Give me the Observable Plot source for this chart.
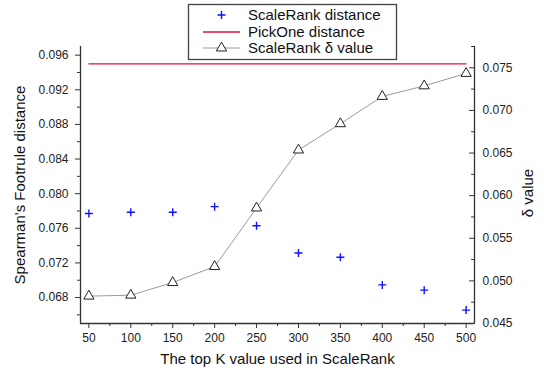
<!DOCTYPE html>
<html>
<head>
<meta charset="utf-8">
<script src="https://cdn.jsdelivr.net/npm/d3@7"></script>
<script src="https://cdn.jsdelivr.net/npm/@observablehq/plot@0.6"></script>
<style>
  html, body { margin: 0; padding: 0; background: #fff; }
  #wrap { position: relative; width: 544px; height: 373px; font-family: "Liberation Sans", Arial, sans-serif; }
  #legend { position: absolute; left: 0; top: 0; }
</style>
</head>
<body>
<div id="wrap"><div id="chart"></div></div>
<script>
// ---- data ----
const K = [50, 100, 150, 200, 250, 300, 350, 400, 450, 500];
const scaleRankDistance = [0.0777, 0.07785, 0.07785, 0.0785, 0.0763, 0.07315, 0.07265, 0.06946, 0.06885, 0.06655];
const pickOneDistance = 0.095;
const scaleRankDelta = [0.04821, 0.04832, 0.0498, 0.05168, 0.05855, 0.06535, 0.06844, 0.07164, 0.07288, 0.07434];
const xMajorTicks = [50, 100, 150, 200, 250, 300, 350, 400, 450, 500];
const xMinorTicks = [75, 125, 175, 225, 275, 325, 375, 425, 475];
const leftMajorTicks = [0.068, 0.072, 0.076, 0.080, 0.084, 0.088, 0.092, 0.096];
const leftMinorTicks = [0.066, 0.070, 0.074, 0.078, 0.082, 0.086, 0.090, 0.094];
const rightMajorTicks = [0.045, 0.050, 0.055, 0.060, 0.065, 0.070, 0.075];
const rightMinorTicks = [0.0475, 0.0525, 0.0575, 0.0625, 0.0675, 0.0725, 0.0775];
const legendLabels = ["ScaleRank distance", "PickOne distance", "ScaleRank \u03b4 value"];
const xTitle = "The top K value used in ScaleRank";
const yLeftTitle = "Spearman's Footrule distance";
const yRightTitle = "\u03b4 value";

// ---- scales ----
const xDomain = [40, 510];
const leftDomain = [0.065, 0.097];
const rightDomain = [0.045, 0.0775];
const toLeft = v => leftDomain[0] + (v - rightDomain[0]) * (leftDomain[1] - leftDomain[0]) / (rightDomain[1] - rightDomain[0]);
const fromLeft = v => rightDomain[0] + (v - leftDomain[0]) * (rightDomain[1] - rightDomain[0]) / (leftDomain[1] - leftDomain[0]);

const crossData = K.map((k, i) => ({k, v: scaleRankDistance[i]}));
const deltaData = K.map((k, i) => ({k, v: toLeft(scaleRankDelta[i])}));
const pickData = [{k: K[0], v: pickOneDistance}, {k: K[K.length - 1], v: pickOneDistance}];

const plusSymbol = {
  draw(ctx, size) {
    const r = Math.sqrt(size / Math.PI);
    ctx.moveTo(-r, 0); ctx.lineTo(r, 0);
    ctx.moveTo(0, -r); ctx.lineTo(0, r);
  }
};
const tickShape = { draw(ctx, l) { ctx.moveTo(0, 0); ctx.lineTo(0, -l); } };
const axisColor = "#333";
const fmt3 = d3.format(".3f");

const chart = Plot.plot({
  width: 544,
  height: 373,
  marginLeft: 80,
  marginRight: 70,
  marginTop: 46,
  marginBottom: 50,
  style: { fontFamily: "Liberation Sans, Arial, sans-serif", background: "#fff", color: "#222" },
  x: { domain: xDomain, label: null },
  y: { domain: leftDomain, label: null },
  marks: [
    // frame lines (left, right, bottom)
    Plot.ruleX([xDomain[0], xDomain[1]], { stroke: axisColor, strokeWidth: 1.3 }),
    Plot.ruleY([leftDomain[0]], { stroke: axisColor, strokeWidth: 1.3 }),
    // bottom axis
    Plot.axisX({ ticks: xMajorTicks, tickSize: 5, tickPadding: 5, fontSize: 12, tickFormat: d3.format("d"), label: null, stroke: axisColor }),
    Plot.axisX({ ticks: xMinorTicks, tickSize: 3, fill: "none", label: null, stroke: axisColor }),
    // left axis
    Plot.axisY({ ticks: leftMajorTicks, tickSize: 5, tickPadding: 7, fontSize: 12, tickFormat: fmt3, label: null, stroke: axisColor }),
    Plot.axisY({ ticks: leftMinorTicks, tickSize: 3, fill: "none", label: null, stroke: axisColor }),
    // right axis (labels) + inward ticks
    Plot.axisY({ anchor: "right", ticks: rightMajorTicks.map(toLeft), tickSize: 0, tickPadding: 8, fontSize: 12,
      tickFormat: d => fmt3(fromLeft(d)), label: null }),
    Plot.vector(rightMajorTicks, { x: () => xDomain[1], y: d => toLeft(d), length: 5, rotate: -90, anchor: "start", shape: tickShape, stroke: axisColor, strokeWidth: 1 }),
    Plot.vector(rightMinorTicks, { x: () => xDomain[1], y: d => toLeft(d), length: 3, rotate: -90, anchor: "start", shape: tickShape, stroke: axisColor, strokeWidth: 1 }),
    // titles
    Plot.text([xTitle], { frameAnchor: "bottom", dy: 36, lineAnchor: "middle", textAnchor: "middle", fontSize: 15, fill: "#111" }),
    Plot.text([yLeftTitle], { frameAnchor: "left", dx: -60, rotate: -90, lineAnchor: "middle", textAnchor: "middle", fontSize: 15, fill: "#111" }),
    Plot.text([yRightTitle], { frameAnchor: "right", dx: 54, dy: 8, rotate: -90, lineAnchor: "middle", textAnchor: "middle", fontSize: 15, fill: "#111" }),
    // data
    Plot.line(pickData, { x: "k", y: "v", stroke: "#e3103a", strokeWidth: 1.3 }),
    Plot.line(deltaData, { x: "k", y: "v", stroke: "#9a9a9a", strokeWidth: 1 }),
    Plot.dot(deltaData, { x: "k", y: "v", symbol: "triangle", r: 3.8, stroke: "#222", fill: "#fff", strokeWidth: 1 }),
    Plot.dot(crossData, { x: "k", y: "v", symbol: plusSymbol, r: 4, stroke: "#1010ff", strokeWidth: 1.4, fill: "none" })
  ]
});
document.getElementById("chart").appendChild(chart);

// ---- legend ----
const leg = d3.select("#wrap").append("svg").attr("id", "legend").attr("width", 544).attr("height", 70)
  .style("font-family", "Liberation Sans, Arial, sans-serif");
leg.append("rect").attr("x", 188.5).attr("y", 4.5).attr("width", 208).attr("height", 55)
  .attr("fill", "#fff").attr("stroke", "#444").attr("stroke-width", 1.3);
const rowY = [15, 32, 48];
const symX = 221.5;
// row 1: plus
leg.append("path").attr("d", `M${symX - 4},${rowY[0]}H${symX + 4}M${symX},${rowY[0] - 4}V${rowY[0] + 4}`)
  .attr("stroke", "#1010ff").attr("stroke-width", 1.4);
// row 2: red line
leg.append("line").attr("x1", 203).attr("x2", 240).attr("y1", rowY[1]).attr("y2", rowY[1])
  .attr("stroke", "#e3103a").attr("stroke-width", 1.3);
// row 3: gray line + triangle
leg.append("line").attr("x1", 203).attr("x2", 240).attr("y1", rowY[2]).attr("y2", rowY[2])
  .attr("stroke", "#9a9a9a").attr("stroke-width", 1);
leg.append("path").attr("transform", `translate(${symX},${rowY[2]})`)
  .attr("d", d3.symbol(d3.symbolTriangle, Math.PI * 3.8 * 3.8)())
  .attr("fill", "#fff").attr("stroke", "#222");
legendLabels.forEach((t, i) => {
  leg.append("text").attr("x", 248).attr("y", rowY[i]).attr("dy", "0.35em")
    .attr("font-size", 15).attr("fill", "#111").text(t);
});
</script>
</body>
</html>
